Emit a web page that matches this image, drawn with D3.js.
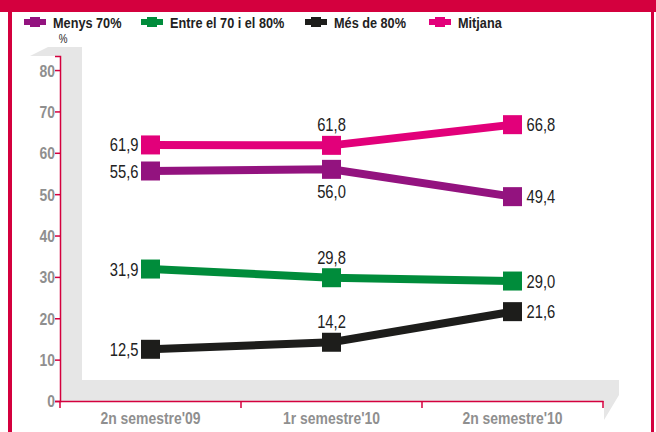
<!DOCTYPE html>
<html>
<head>
<meta charset="utf-8">
<script src="https://cdn.jsdelivr.net/npm/d3@7"></script>
<style>
  body { margin: 0; background: #fff; }
  svg { display: block; }
</style>
</head>
<body>
<figure style="margin:0"></figure>
<script>
const categories = ["2n semestre'09", "1r semestre'10", "2n semestre'10"];
const seriesNames = ["Menys 70%", "Entre el 70 i el 80%", "Més de 80%", "Mitjana"];
const menys70 = [55.6, 56.0, 49.4];
const entre70i80 = [31.9, 29.8, 29.0];
const mesDe80 = [12.5, 14.2, 21.6];
const mitjana = [61.9, 61.8, 66.8];
const yTicks = [0, 10, 20, 30, 40, 50, 60, 70, 80];

(() => {
  const totalWidth = 656;
  const totalHeight = 432;
  const font = '"Liberation Sans", Arial, sans-serif';
  const squeeze = 0.82; // condensed look
  const crimson = '#d4003e';

  const svg = d3.select('figure').append('svg')
    .attr('width', totalWidth)
    .attr('height', totalHeight);

  // places a condensed text at (px, py)
  const narrowAt = (sel, px, py) => sel
    .attr('x', 0).attr('y', 0)
    .attr('transform', (d, i) => 'translate(' + px(d, i) + ',' + py(d, i) + ') scale(' + squeeze + ',1)');

  // frame
  svg.append('rect').attr('x', 0).attr('y', 0).attr('width', 656).attr('height', 12).attr('fill', crimson);
  svg.append('rect').attr('x', 8).attr('y', 0).attr('width', 4).attr('height', totalHeight).attr('fill', crimson);
  svg.append('rect').attr('x', 651).attr('y', 0).attr('width', 3).attr('height', totalHeight).attr('fill', crimson);

  const x = d3.scaleBand().domain(categories).range([60, 603]).padding(0);
  const y = d3.scaleLinear().domain([0, 83.4]).range([401, 56]);
  const cx = (c) => x(c) + x.bandwidth() / 2;

  // 3d wall and floor
  const gray = '#e6e6e6';
  svg.append('path')
    .attr('fill', gray)
    .attr('d', 'M30,56 L48,47 L82,47 L82,380 L619,380 L619,395 L604,420 L604,401 L60,401 L60,56 Z');

  // axes
  const yAxis = svg.append('g')
    .attr('transform', 'translate(60,0)')
    .call(d3.axisLeft(y).tickValues(yTicks).tickSize(5).tickFormat(d3.format('d')));
  yAxis.select('.domain').attr('stroke', crimson).attr('stroke-width', 1.5);
  yAxis.selectAll('.tick line').attr('stroke', crimson).attr('stroke-width', 1.5);
  yAxis.selectAll('.tick text')
    .attr('fill', '#8f8f8f')
    .attr('font-family', font)
    .attr('font-weight', 'bold')
    .attr('font-size', 17)
    .attr('dy', '0.35em')
    .call(narrowAt, () => -5, () => 0);

  const xAxis = svg.append('g')
    .attr('transform', 'translate(0,' + y(0) + ')')
    .call(d3.axisBottom(x).tickSize(0).tickSizeOuter(0));
  xAxis.select('.domain').attr('stroke', crimson).attr('stroke-width', 1.5);
  xAxis.selectAll('.tick text')
    .attr('fill', '#8f8f8f')
    .attr('font-family', font)
    .attr('font-weight', 'bold')
    .attr('font-size', 17)
    .attr('dy', '0')
    .call(narrowAt, () => 0, () => 23);
  const edges = categories.map((c) => x(c)).concat([x.range()[1]]);
  xAxis.selectAll('line.edge')
    .data(edges)
    .enter().append('line')
    .attr('class', 'edge')
    .attr('x1', (d) => d).attr('x2', (d) => d)
    .attr('y1', 0).attr('y2', 7)
    .attr('stroke', crimson).attr('stroke-width', 1.5);

  svg.append('text')
    .attr('text-anchor', 'middle')
    .attr('font-family', font)
    .attr('font-size', 12)
    .attr('fill', '#222')
    .text('%')
    .call(narrowAt, () => 63, () => 43);

  const series = [
    {name: seriesNames[0], values: menys70, color: '#93137f', mid: 'below'},
    {name: seriesNames[1], values: entre70i80, color: '#008c3b', mid: 'above'},
    {name: seriesNames[2], values: mesDe80, color: '#1d1d1b', mid: 'above'},
    {name: seriesNames[3], values: mitjana, color: '#e2007a', mid: 'above'}
  ];

  const line = d3.line()
    .x((d, i) => cx(categories[i]))
    .y((d) => y(d));

  const fmt = (v) => d3.format('.1f')(v).replace('.', ',');

  series.forEach((s) => {
    const g = svg.append('g');
    g.append('path')
      .datum(s.values)
      .attr('fill', 'none')
      .attr('stroke', s.color)
      .attr('stroke-width', 8)
      .attr('d', line);
    g.selectAll('rect')
      .data(s.values)
      .enter().append('rect')
      .attr('x', (d, i) => cx(categories[i]) - 9.5)
      .attr('y', (d) => y(d) - 9.5)
      .attr('width', 19)
      .attr('height', 19)
      .attr('fill', s.color);
    g.selectAll('text')
      .data(s.values)
      .enter().append('text')
      .attr('font-family', font)
      .attr('font-size', 18)
      .attr('fill', '#222')
      .attr('text-anchor', (d, i) => i === 0 ? 'end' : i === 2 ? 'start' : 'middle')
      .text(fmt)
      .call(narrowAt,
        (d, i) => i === 0 ? cx(categories[i]) - 12 : i === 2 ? cx(categories[i]) + 14 : cx(categories[i]),
        (d, i) => i === 1 ? (s.mid === 'above' ? y(d) - 14 : y(d) + 29) : y(d) + 6.5);
  });

  // legend
  const legendX = [24, 141, 305, 429];
  const legend = svg.append('g');
  series.forEach((s, i) => {
    const lg = legend.append('g').attr('transform', 'translate(' + legendX[i] + ',22)');
    lg.append('line').attr('x1', 0).attr('x2', 22).attr('y1', 0).attr('y2', 0)
      .attr('stroke', s.color).attr('stroke-width', 6);
    lg.append('rect').attr('x', 6).attr('y', -5).attr('width', 10).attr('height', 10).attr('fill', s.color);
    lg.append('text')
      .attr('font-family', font)
      .attr('font-weight', 'bold')
      .attr('font-size', 15.5)
      .attr('fill', '#222')
      .text(s.name)
      .call(narrowAt, () => 29, () => 6);
  });
})();
</script>
</body>
</html>
